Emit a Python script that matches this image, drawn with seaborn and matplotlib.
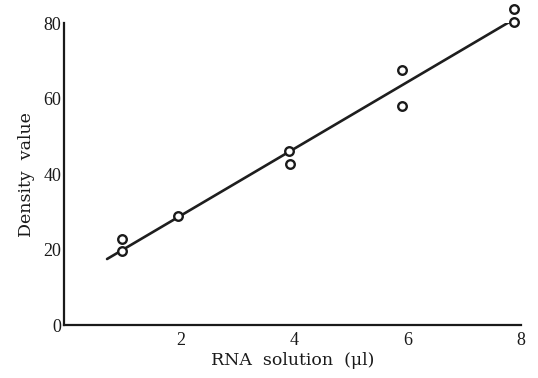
import matplotlib
matplotlib.use("Agg")
import matplotlib.pyplot as plt
import seaborn as sns
import pandas as pd

# Data
rna_ul = [0.95, 0.95, 1.95, 3.9, 3.92, 5.9, 5.9, 7.87, 7.87]
density = [22.8, 19.7, 28.9, 46.2, 42.6, 67.5, 58.0, 83.7, 80.3]
fit_x = [0.69, 7.83]
fit_y = [17.5, 80.6]
x_ticks = [2, 4, 6, 8]
y_ticks = [0, 20, 40, 60, 80]

sns.set_style("white")
plt.rcParams['font.family'] = ['Liberation Serif', 'DejaVu Serif']

fig = plt.figure(figsize=(5.38, 3.78), dpi=100)
ax = fig.add_axes([0.119, 0.140, 0.8494, 0.799])

pts = pd.DataFrame({"x": rna_ul, "y": density})
fit = pd.DataFrame({"x": fit_x, "y": fit_y})

sns.lineplot(data=fit, x="x", y="y", ax=ax, color="#1e1e1e", linewidth=1.9)
sns.scatterplot(data=pts, x="x", y="y", ax=ax, marker="o", s=38,
                facecolor="white", edgecolor="#1a1a1a", linewidth=1.7,
                zorder=3, clip_on=False)

ax.set_xlim(-0.07, 8.0)
ax.set_ylim(0, 80)
ax.set_xticks(x_ticks)
ax.set_yticks(y_ticks)
ax.tick_params(axis="both", direction="in", length=4, width=1.2,
               labelsize=13, colors="#1a1a1a")
ax.tick_params(axis="x", pad=5)
ax.tick_params(axis="y", pad=2)
for s in ["top", "right"]:
    ax.spines[s].set_visible(False)
for s in ["left", "bottom"]:
    ax.spines[s].set_linewidth(1.6)
    ax.spines[s].set_color("#1a1a1a")
ax.set_xlabel("RNA  solution  (μl)", fontsize=12.5, color="#1a1a1a", labelpad=2,
              family=["DejaVu Serif"])
ax.set_ylabel("Density  value", fontsize=12.5, color="#1a1a1a", labelpad=6,
              family=["DejaVu Serif"])

fig.savefig("out.png", dpi=100)
